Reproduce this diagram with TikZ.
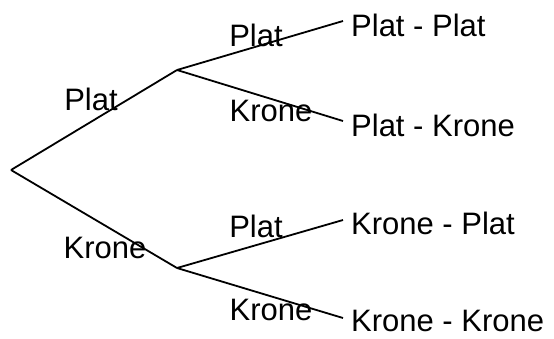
\documentclass[tikz,border=0pt]{standalone}
\usepackage{fontspec}
\setmainfont{Liberation Sans}
\usepackage{tikz}
\usetikzlibrary{positioning, calc}

\begin{document}
\begin{tikzpicture}[x=1pt, y=-1pt,
        lbl/.style={font=\fontsize{31}{36}\selectfont, inner sep=0pt},
        leaf/.style={lbl, anchor=west},
        branch/.style={line width=1.8pt}]
    \useasboundingbox (0,0) rectangle (554,338);

    % branching points
    \coordinate (root) at (11,170);
    \coordinate (p) at (177,70);
    \coordinate (k) at (177,268);

    % outcomes
    \node[leaf] (pp) at (351,25) {Plat - Plat};
    \node[leaf] (pk) at (351,125) {Plat - Krone};
    \node[leaf] (kp) at (351,223) {Krone - Plat};
    \node[leaf] (kk) at (351,321) {Krone - Krone};

    % branches
    \draw[branch] (root) -- (p);
    \draw[branch] (root) -- (k);
    \draw[branch] (p) -- ([xshift=-8pt,yshift=4pt]pp.west);
    \draw[branch] (p) -- ([xshift=-8pt,yshift=4pt]pk.west);
    \draw[branch] (k) -- ([xshift=-8pt,yshift=3pt]kp.west);
    \draw[branch] (k) -- ([xshift=-8pt,yshift=3pt]kk.west);

    % branch labels
    \node[lbl] (lp) at (91,99) {Plat};
    \node[lbl] (lk) at (105,248) {Krone};
    \node[lbl] (lpp) at (256,35) {Plat};
    \node[lbl] (lpk) at (271,111) {Krone};
    \node[lbl] (lkp) at (256,226) {Plat};
    \node[lbl] (lkk) at (271,310) {Krone};
\end{tikzpicture}
\end{document}
